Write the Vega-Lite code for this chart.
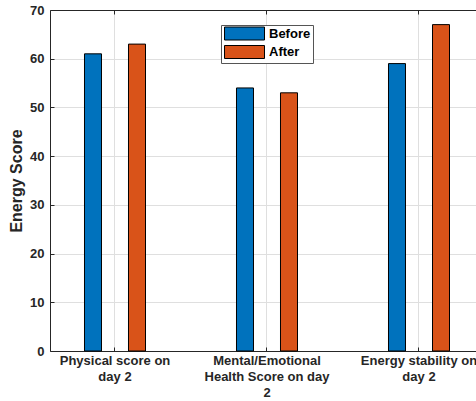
{
  "$schema": "https://vega.github.io/schema/vega-lite/v6.json",
  "width": 426,
  "height": 341,
  "autosize": "none",
  "padding": {"left": 50, "top": 10, "right": 0, "bottom": 50},
  "background": "white",
  "config": {
    "view": {"stroke": null},
    "font": "Liberation Sans",
    "axis": {
      "domainColor": "#262626",
      "domainWidth": 1,
      "tickColor": "#262626",
      "tickSize": -4,
      "gridColor": "#DFDFDF",
      "gridWidth": 1,
      "labelFont": "Liberation Sans",
      "labelFontWeight": "bold",
      "labelFontSize": 13,
      "labelColor": "#262626",
      "titleFont": "Liberation Sans",
      "titleColor": "#262626"
    }
  },
  "data": {
    "values": [
      {"metric": "Physical score on day 2", "period": "Before", "score": 61},
      {"metric": "Physical score on day 2", "period": "After", "score": 63},
      {"metric": "Mental/Emotional Health Score on day 2", "period": "Before", "score": 54},
      {"metric": "Mental/Emotional Health Score on day 2", "period": "After", "score": 53},
      {"metric": "Energy stability on day 2", "period": "Before", "score": 59},
      {"metric": "Energy stability on day 2", "period": "After", "score": 67}
    ]
  },
  "layer": [
    {
      "mark": {"type": "bar", "stroke": "#000000", "strokeWidth": 1, "opacity": 1},
      "encoding": {
        "x": {
          "field": "metric",
          "type": "nominal",
          "sort": null,
          "scale": {"paddingInner": 0.25, "paddingOuter": 0.0263, "align": 1},
          "axis": {
            "title": null,
            "grid": true,
            "labelAngle": 0,
            "labelPadding": 7,
            "labelLineHeight": 16,
            "labelOverlap": false,
            "labelBound": false,
            "labelExpr": "datum.value == 'Physical score on day 2' ? ['Physical score on', 'day 2'] : datum.value == 'Mental/Emotional Health Score on day 2' ? ['Mental/Emotional', 'Health Score on day', '2'] : ['Energy stability on', 'day 2']"
          }
        },
        "xOffset": {
          "field": "period",
          "type": "nominal",
          "sort": ["Before", "After"],
          "scale": {"paddingInner": 0.6136, "paddingOuter": 0.602}
        },
        "y": {
          "field": "score",
          "type": "quantitative",
          "scale": {"domain": [0, 70], "nice": false},
          "axis": {
            "title": "Energy Score",
            "titleFontSize": 16,
            "titleFontWeight": "bold",
            "titlePadding": 5,
            "values": [0, 10, 20, 30, 40, 50, 60, 70],
            "grid": true,
            "labelPadding": 10
          }
        },
        "color": {
          "field": "period",
          "type": "nominal",
          "sort": ["Before", "After"],
          "scale": {"range": ["#0072BD", "#D95319"]},
          "legend": {
            "title": null,
            "orient": "none",
            "legendX": 171,
            "legendY": 15,
            "symbolType": "M-1,-1.3H7V1.3H-1Z",
            "symbolSize": 100,
            "symbolStrokeColor": "#000000",
            "symbolStrokeWidth": 1,
            "symbolOpacity": 1,
            "labelFont": "Liberation Sans",
            "labelFontSize": 13,
            "labelFontWeight": "bold",
            "labelColor": "#000000",
            "labelOffset": 33,
            "rowPadding": 1.5,
            "fillColor": "white",
            "strokeColor": "#555555",
            "padding": 2
          }
        }
      }
    },
    {
      "mark": {"type": "rule", "opacity": 0},
      "encoding": {
        "x": {
          "field": "metric",
          "type": "nominal",
          "sort": null,
          "axis": {"orient": "top", "title": null, "labels": false, "grid": false, "domain": true, "ticks": true}
        }
      }
    }
  ],
  "resolve": {"axis": {"x": "independent"}}
}
